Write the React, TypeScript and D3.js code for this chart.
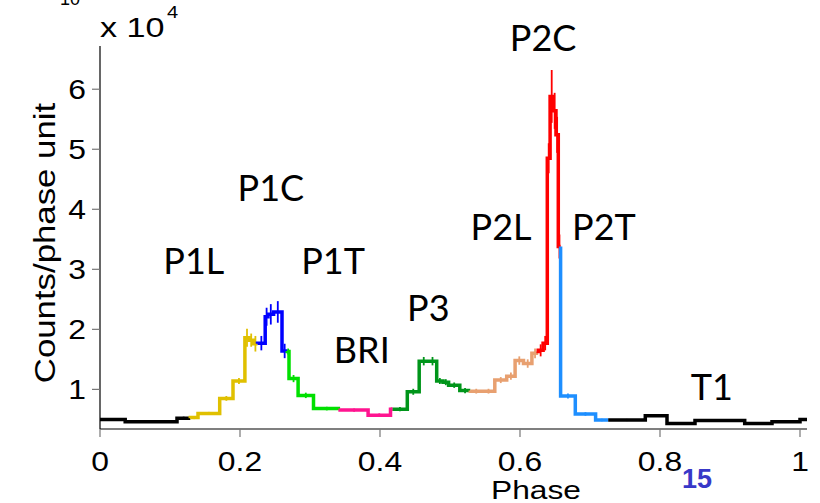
import React from 'react';
import * as d3 from 'd3';

// ---- data ----
const regionNames = ['OFF1', 'P1L', 'P1C', 'P1T', 'BRI', 'P3', 'P2L', 'P2C', 'P2T', 'T1'];
const regionColors = ['#000000', '#e0c000', '#0000ff', '#00e000', '#ff1490', '#00951a', '#e8a070', '#ff0000', '#1e8fff', '#000000'];

const binStart = [
  0.000, 0.036, 0.110,
  0.129, 0.140, 0.171, 0.190, 0.207, 0.213, 0.219,
  0.225, 0.236, 0.240, 0.248, 0.260,
  0.2676, 0.270, 0.283, 0.305,
  0.343, 0.383, 0.415,
  0.418, 0.439, 0.456, 0.469, 0.481, 0.490, 0.498, 0.514,
  0.529, 0.546, 0.564, 0.581, 0.593, 0.605, 0.617,
  0.626, 0.633, 0.639, 0.643, 0.6476, 0.6514, 0.6547,
  0.658, 0.679, 0.708,
  0.726, 0.779, 0.810, 0.850, 0.921, 0.960, 1.000,
];
const binEnd = [
  0.036, 0.110, 0.129,
  0.140, 0.171, 0.190, 0.207, 0.213, 0.219, 0.225,
  0.236, 0.240, 0.248, 0.260, 0.2676,
  0.270, 0.283, 0.305, 0.343,
  0.383, 0.415, 0.418,
  0.439, 0.456, 0.469, 0.481, 0.490, 0.498, 0.514, 0.529,
  0.546, 0.564, 0.581, 0.593, 0.605, 0.617, 0.626,
  0.633, 0.639, 0.643, 0.6476, 0.6514, 0.6547, 0.658,
  0.679, 0.708, 0.726,
  0.779, 0.810, 0.850, 0.921, 0.960, 1.000, 1.010,
];
const binValue = [
  5000, 4600, 5200,
  5300, 6000, 8500, 11400, 18600, 18200, 17600,
  17700, 22100, 22500, 22900, 16400,
  16300, 11800, 9000, 6800,
  6550, 5700, 6700,
  6700, 9600, 14700, 14700, 11400, 11200, 10700, 9800,
  9700, 9700, 11550, 12200, 14800, 14300, 16000,
  16500, 17700, 48500, 58800, 56400, 52400, 33800,
  8900, 5900, 4900,
  4900, 5600, 4300, 4800, 4300, 4600, 5000,
];
const binError = [
  150, 150, 250,
  250, 250, 400, 500, 1500, 1100, 1300,
  1200, 1500, 1700, 1800, 1200,
  500, 600, 450, 300,
  280, 300, 300,
  350, 500, 700, 700, 500, 500, 450, 450,
  400, 400, 500, 600, 700, 700, 800,
  1000, 1200, 2500, 4400, 3000, 3000, 2000,
  400, 300, 200,
  180, 200, 180, 180, 180, 180, 200,
];
const binRegion = [
  0, 0, 0,
  1, 1, 1, 1, 1, 1, 1,
  2, 2, 2, 2, 2,
  3, 3, 3, 3,
  4, 4, 4,
  5, 5, 5, 5, 5, 5, 5, 5,
  6, 6, 6, 6, 6, 6, 6,
  7, 7, 7, 7, 7, 7, 7,
  8, 8, 8,
  9, 9, 9, 9, 9, 9, 9,
];

const xTicks = [0, 0.2, 0.4, 0.6, 0.8, 1];
const yTicks = [10000, 20000, 30000, 40000, 50000, 60000];

const labelTexts = ['P1L', 'P1C', 'P1T', 'BRI', 'P3', 'P2L', 'P2C', 'P2T', 'T1'];
const labelPhase = [0.134, 0.244, 0.333, 0.374, 0.469, 0.573, 0.633, 0.72, 0.874];
const labelCounts = [29300, 41300, 29300, 14400, 21400, 34900, 66400, 34900, 8200];

const W = 820;
const H = 503;

export default function App() {
  const x = d3.scaleLinear().domain([0, 1.01]).range([100, 807]);
  const y = d3.scaleLinear().domain([3400, 67200]).range([429, 46]);

  const line = d3
    .line<[number, number]>()
    .x((d) => x(d[0]))
    .y((d) => y(d[1]))
    .curve(d3.curveStepAfter);

  const paths: { d: string; color: string }[] = [];
  regionNames.forEach((_, r) => {
    const idx = binRegion.map((g, i) => (g === r ? i : -1)).filter((i) => i >= 0);
    if (!idx.length) return;
    const pts: [number, number][] = [];
    const first = idx[0];
    if (first > 0) pts.push([binStart[first], binValue[first - 1]]);
    idx.forEach((i) => pts.push([binStart[i], binValue[i]]));
    const last = idx[idx.length - 1];
    pts.push([binEnd[last], binValue[last]]);
    paths.push({ d: line(pts) || '', color: regionColors[r] });
  });

  const sans = 'Liberation Sans, Arial, Helvetica, sans-serif';
  const stretch = 1.18;

  return (
    <svg width={W} height={H} style={{ display: 'block', position: 'absolute', left: 0, top: 0 }}>
      <rect x={0} y={0} width={W} height={H} fill="#ffffff" />
      {/* cut-off text at top */}
      <text x={70} y={5} fontFamily={sans} fontSize={18} textAnchor="middle" fill="#000">10</text>

      {/* axes */}
      <line x1={100} x2={100} y1={46} y2={429} stroke="#000" strokeWidth={1.2} />
      <line x1={100} x2={807} y1={429} y2={429} stroke="#000" strokeWidth={1.2} />
      {yTicks.map((t) => (
        <g key={'yt' + t}>
          <line x1={92} x2={100} y1={y(t)} y2={y(t)} stroke="#777" strokeWidth={1.2} />
          <text
            transform={`translate(86,${y(t) + 10}) scale(${stretch},1)`}
            fontFamily={sans}
            fontSize={27}
            textAnchor="end"
            fill="#000"
          >
            {d3.format('d')(t / 10000)}
          </text>
        </g>
      ))}
      {xTicks.map((t) => (
        <g key={'xt' + t}>
          <line x1={x(t)} x2={x(t)} y1={429} y2={437} stroke="#777" strokeWidth={1.2} />
          <text
            transform={`translate(${x(t)},471) scale(${stretch},1)`}
            fontFamily={sans}
            fontSize={27}
            textAnchor="middle"
            fill="#000"
          >
            {d3.format('~g')(t)}
          </text>
        </g>
      ))}

      {/* multiplier */}
      <text transform={`translate(100,37) scale(1.22,1)`} fontFamily={sans} fontSize={28} fill="#000">
        x 10
      </text>
      <text transform={`translate(167,18) scale(${stretch},1)`} fontFamily={sans} fontSize={17} fill="#000">
        4
      </text>

      {/* axis titles */}
      <text
        transform={`translate(536,499) scale(1.22,1)`}
        fontFamily={sans}
        fontSize={26}
        textAnchor="middle"
        fill="#000"
      >
        Phase
      </text>
      <text
        transform={`translate(55,243) rotate(-90) scale(1.2,1)`}
        fontFamily={sans}
        fontSize={29}
        textAnchor="middle"
        fill="#000"
      >
        Counts/phase unit
      </text>

      {/* error bars */}
      {binValue.map((v, i) => {
        const cx = x((binStart[i] + binEnd[i]) / 2);
        return (
          <line
            key={'e' + i}
            x1={cx}
            x2={cx}
            y1={y(v - binError[i])}
            y2={y(v + binError[i])}
            stroke={regionColors[binRegion[i]]}
            strokeWidth={1.8}
          />
        );
      })}

      {/* step curves */}
      {paths.map((p, i) => (
        <path key={'p' + i} d={p.d} fill="none" stroke={p.color} strokeWidth={3.5} strokeLinejoin="miter" />
      ))}

      {/* region labels */}
      {labelTexts.map((t, i) => (
        <text
          key={'l' + t}
          x={x(labelPhase[i])}
          y={y(labelCounts[i])}
          fontFamily="Lato, 'Open Sans', sans-serif"
          fontSize={36}
          textAnchor="middle"
          fill="#000"
        >
          {t}
        </text>
      ))}

      {/* page number */}
      <text x={697} y={488} fontFamily={sans} fontSize={27} fontWeight="bold" textAnchor="middle" fill="#3838c8">
        15
      </text>
    </svg>
  );
}
